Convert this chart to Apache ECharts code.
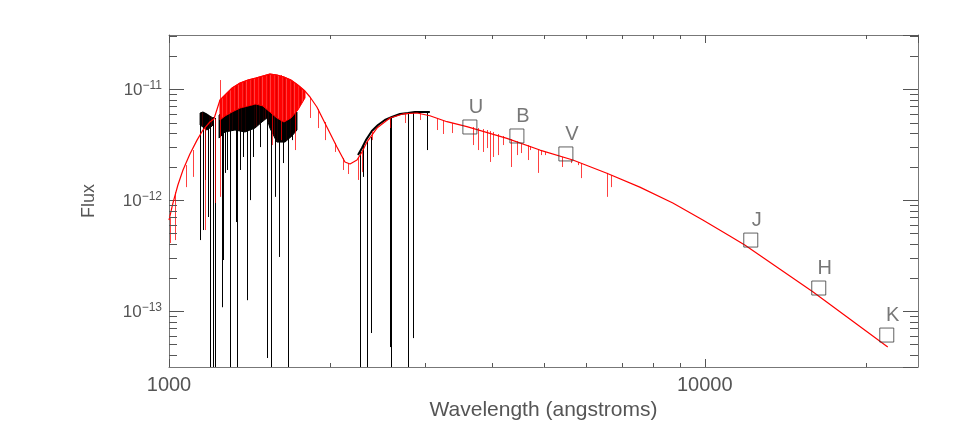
<!DOCTYPE html>
<html><head><meta charset="utf-8">
<script src="https://cdn.jsdelivr.net/npm/echarts@6/dist/echarts.min.js"></script>
<style>html,body{margin:0;padding:0;background:#fff}#c{width:954px;height:436px}</style>
</head><body><div id="c"></div>
<script>
// ---- axes ----
const xMin = 1000, xMax = 25000;
const yMin = 3.12e-14, yMax = 3.09e-11;
const xMinorTicks = [2000,3000,4000,5000,6000,7000,8000,9000,20000];
const yMinorTicks = [4e-14,5e-14,6e-14,7e-14,8e-14,9e-14,2e-13,3e-13,4e-13,5e-13,6e-13,7e-13,8e-13,9e-13,2e-12,3e-12,4e-12,5e-12,6e-12,7e-12,8e-12,9e-12,2e-11,3e-11];

// ---- model spectrum (red) continuum ----
const redWave = [1000,1017,1039,1062,1094,1128,1157,1192,1213,1245,1272,1311,1357,1404,1453,1497,1543,1590,1639,1689,1740,1794,1833,1888,1971,2058,2130,2177,2243,2292,2341,2444,2584,2733,2902,3068,3302,3597,4273,4923,5672,6565,7563,8716,9915,11134,11875,15906,21951];
const redFlux = [6.61e-13,9.41e-13,1.37e-12,1.87e-12,2.61e-12,3.48e-12,4.29e-12,5.07e-12,5.39e-12,8.01e-12,8.88e-12,1.027e-11,1.14e-11,1.212e-11,1.265e-11,1.318e-11,1.374e-11,1.346e-11,1.291e-11,1.212e-11,1.093e-11,9.65e-12,8.52e-12,6.92e-12,4.57e-12,3.01e-12,2.21e-12,2.12e-12,2.30e-12,2.72e-12,3.34e-12,4.47e-12,5.51e-12,5.99e-12,6.11e-12,5.77e-12,5.10e-12,4.60e-12,3.61e-12,2.83e-12,2.30e-12,1.75e-12,1.31e-12,9.41e-13,6.61e-13,4.74e-13,3.93e-13,1.49e-13,4.72e-14];

// model line-blanketed band (envelope)
const redBandWave = [1245,1272,1311,1357,1404,1453,1497,1543,1590,1639,1689,1740,1794];
const redBandHigh = [8.01e-12,8.88e-12,1.027e-11,1.14e-11,1.212e-11,1.265e-11,1.318e-11,1.374e-11,1.346e-11,1.291e-11,1.212e-11,1.093e-11,9.65e-12];
const redBandLow  = [5.28e-12,5.74e-12,6.24e-12,6.78e-12,7.07e-12,7.37e-12,7.07e-12,6.24e-12,5.51e-12,5.07e-12,5.51e-12,6.50e-12,8.35e-12];

// model absorption lines
const modelLineWave = [1004,1026,1076,1109,1167,1220,1245,1557,1618,1719,1833,1897,1954,2040,2112,2158,2253,2292,2391,2584,2756,2939,3162,3245,3373,3691,3772,3854,3921,3972,4023,4111,4200,4347,4461,4538,4676,4716,4881,4943,5029,5411,5623,5796,5871,6565,6678];
const modelLineTop = [6.89e-13,1.18e-12,2.07e-12,2.83e-12,4.47e-12,5.39e-12,1.212e-11,1.374e-11,1.346e-11,1.116e-11,8.52e-12,6.64e-12,5.07e-12,3.28e-12,2.40e-12,2.16e-12,2.45e-12,2.72e-12,4.20e-12,5.51e-12,5.99e-12,6.11e-12,5.51e-12,5.28e-12,4.96e-12,4.57e-12,4.47e-12,4.38e-12,4.29e-12,4.20e-12,4.12e-12,3.95e-12,3.79e-12,3.56e-12,3.41e-12,3.28e-12,3.14e-12,3.08e-12,2.89e-12,2.83e-12,2.72e-12,2.45e-12,2.30e-12,2.21e-12,2.16e-12,1.76e-12,1.68e-12];
const modelLineBottom = [4.10e-13,4.36e-13,1.31e-12,1.62e-12,5.37e-13,9.41e-13,1.07e-12,3.14e-12,3.48e-12,2.83e-12,5.51e-12,4.47e-12,3.48e-12,2.72e-12,1.87e-12,1.72e-12,1.52e-12,1.79e-12,3.48e-12,4.47e-12,4.96e-12,5.28e-12,4.29e-12,3.95e-12,4.03e-12,3.14e-12,2.83e-12,2.72e-12,2.95e-12,2.21e-12,2.45e-12,2.55e-12,3.14e-12,1.99e-12,2.55e-12,2.66e-12,2.30e-12,2.83e-12,1.76e-12,2.55e-12,2.55e-12,1.99e-12,2.16e-12,2.07e-12,1.58e-12,1.07e-12,1.31e-12];

// ---- observed spectrum (black) ----
const swpWaveA = [1143,1157,1177,1192,1208];
const swpHighA = [6.11e-12,6.24e-12,5.99e-12,5.74e-12,5.51e-12];
const swpLowA  = [4.76e-12,4.57e-12,4.29e-12,4.47e-12,4.76e-12];
const swpWaveB = [1240,1272,1328,1386,1447,1491,1523,1543,1590,1646,1696,1733];
const swpHighB = [5.86e-12,6.50e-12,7.07e-12,7.37e-12,8.01e-12,8.70e-12,1.027e-11,8.35e-12,7.68e-12,7.22e-12,6.78e-12,6.24e-12];
const swpLowB  = [3.63e-12,4.12e-12,4.29e-12,4.12e-12,4.47e-12,5.07e-12,5.51e-12,4.47e-12,3.34e-12,3.34e-12,3.79e-12,4.29e-12];
const lwpWave = [2253,2292,2331,2391,2455,2529,2606,2698,2792,2877,2965,3068];
const lwpFlux = [2.55e-12,2.95e-12,3.48e-12,4.20e-12,4.76e-12,5.28e-12,5.62e-12,5.99e-12,6.11e-12,6.24e-12,6.24e-12,6.24e-12];

const obsLineWave = [1143,1156,1167,1184,1192,1206,1218,1254,1263,1272,1281,1300,1334,1341,1357,1376,1400,1416,1437,1478,1526,1548,1577,1606,1634,1670,1694,2272,2304,2344,2378,2584,2599,2796,2857,3025];
const obsLineTop = [6.11e-12,6.24e-12,6.11e-12,5.86e-12,5.74e-12,5.62e-12,5.51e-12,5.86e-12,6.11e-12,6.50e-12,6.50e-12,6.78e-12,7.07e-12,7.07e-12,7.22e-12,7.37e-12,7.52e-12,7.68e-12,8.01e-12,8.52e-12,9.86e-12,8.35e-12,8.01e-12,7.52e-12,7.22e-12,6.92e-12,6.78e-12,2.72e-12,3.08e-12,3.41e-12,3.71e-12,5.51e-12,5.51e-12,6.11e-12,6.24e-12,6.24e-12];
const obsLineBottom = [4.36e-13,5.37e-13,1.52e-12,7.04e-13,1e-14,1e-14,1e-14,1.08e-13,2.88e-13,1.76e-12,1.87e-12,1e-14,6.34e-13,1e-14,1.87e-12,2.45e-12,1.25e-13,1.0e-12,2.45e-12,3.01e-12,3.76e-14,1e-14,1.07e-12,3.07e-13,2.16e-12,1e-14,3.48e-12,1e-14,1.62e-12,1e-14,6.32e-14,4.72e-14,1e-14,1e-14,5.69e-14,2.83e-12];

// ---- photometry ----
const bandNames = ['U','B','V','J','H','K'];
const photWave = [3644,4460,5505,12185,16320,21860];
const photFlux = [4.57e-12,3.79e-12,2.61e-12,4.36e-13,1.61e-13,6.06e-14];

// ---- styles ----
const FONT = '"Liberation Sans", Arial, sans-serif';
const TXT = '#555';
const AX = '#777';

const zip = (a, b) => a.map((v, i) => [v, b[i]]);
const lineItems = (w, t, b) => w.map((v, i) => [v, t[i], b[i]]);

// vertical-stripe texture to mimic the dense line forest
function stripes(cols) {
  const c = document.createElement('canvas'); c.width = cols.length; c.height = 4;
  const g = c.getContext('2d');
  cols.forEach((col, i) => { g.fillStyle = col; g.fillRect(i, 0, 1, 4); });
  return { image: c, repeat: 'repeat' };
}
const redTex = stripes(['#ff0000','#ff0000','#ff2a2a','#ff0000','#e00000','#ff0000','#ff4040','#ff0000']);
const blackTex = stripes(['#000000','#000000','#1a0000','#000000','#400000','#000000','#000000','#200000','#000000']);

function bandSeries(name, wave, hi, lo, fill, edge, z) {
  return {
    type: 'custom', name, z, silent: true,
    data: [[wave[0], hi[0]]],
    renderItem: (params, api) => {
      const pts = [];
      for (let i = 0; i < wave.length; i++) pts.push(api.coord([wave[i], hi[i]]));
      for (let i = wave.length - 1; i >= 0; i--) pts.push(api.coord([wave[i], lo[i]]));
      return { type: 'polygon', shape: { points: pts }, style: { fill: fill, stroke: edge, lineWidth: 1 } };
    }
  };
}
function dipSeries(name, items, color, width, z) {
  return {
    type: 'custom', name, z, silent: true, data: items,
    renderItem: (params, api) => {
      const cs = params.coordSys;
      const p1 = api.coord([api.value(0), api.value(1)]);
      const p2 = api.coord([api.value(0), api.value(2)]);
      const yb = Math.min(p2[1], cs.y + cs.height);
      const yt = Math.max(p1[1], cs.y);
      const x = Math.round(p1[0]) + 0.5;
      return { type: 'line', shape: { x1: x, y1: yt, x2: x, y2: yb }, style: { stroke: color, lineWidth: width } };
    }
  };
}

const chart = echarts.init(document.getElementById('c'), null, { renderer: 'canvas' });
const commonX = { type: 'log', logBase: 10, min: xMin, max: xMax, splitLine: { show: false },
  axisLine: { lineStyle: { color: AX, width: 1 } },
  axisTick: { inside: true, length: 8, lineStyle: { color: '#555' } } };
const commonY = { type: 'log', logBase: 10, min: yMin, max: yMax, splitLine: { show: false },
  axisLine: { lineStyle: { color: AX, width: 1 } },
  axisTick: { inside: true, length: 15, lineStyle: { color: '#555' } } };

chart.setOption({
  animation: false,
  backgroundColor: '#fff',
  grid: { left: 169, right: 36, top: 35, bottom: 69, containLabel: false },
  xAxis: [
    Object.assign({}, commonX, { position: 'bottom',
      name: 'Wavelength (angstroms)', nameLocation: 'middle', nameGap: 33,
      nameTextStyle: { fontFamily: FONT, fontSize: 21, color: TXT },
      axisLabel: { margin: 8, fontFamily: FONT, fontSize: 20, color: TXT, showMaxLabel: false, showMinLabel: true,
        formatter: v => String(Math.round(v)) } }),
    Object.assign({}, commonX, { position: 'top', axisLabel: { show: false } })
  ],
  yAxis: [
    Object.assign({}, commonY, { position: 'left',
      name: 'Flux', nameLocation: 'middle', nameGap: 71, nameRotate: 90,
      nameTextStyle: { fontFamily: FONT, fontSize: 18, color: TXT },
      axisLabel: { margin: 7, showMinLabel: false, showMaxLabel: false,
        formatter: v => { const e = Math.round(Math.log10(v)); return '{b|10}{s|' + (e < 0 ? '\u2212' : '') + Math.abs(e) + '}'; },
        rich: {
          b: { fontFamily: FONT, fontSize: 17, color: TXT, lineHeight: 19, verticalAlign: 'bottom' },
          s: { fontFamily: FONT, fontSize: 12, color: TXT, lineHeight: 12, verticalAlign: 'top' }
        } } }),
    Object.assign({}, commonY, { position: 'right', axisLabel: { show: false } })
  ],
  series: [
    bandSeries('obsA', swpWaveA, swpHighA, swpLowA, blackTex, '#000', 1),
    bandSeries('obsB', swpWaveB, swpHighB, swpLowB, blackTex, '#000', 1),
    { type: 'line', name: 'obsLW', z: 2, data: zip(lwpWave, lwpFlux), showSymbol: false, symbol: 'none',
      lineStyle: { color: '#000', width: 2 } },
    dipSeries('obsLines', lineItems(obsLineWave, obsLineTop, obsLineBottom), '#000', 1, 3),
    bandSeries('modelBand', redBandWave, redBandHigh, redBandLow, redTex, '#ff0000', 4),
    { type: 'line', name: 'model', z: 5, data: zip(redWave, redFlux), showSymbol: false, symbol: 'none',
      lineStyle: { color: '#ff0000', width: 1.2 } },
    dipSeries('modelLines', lineItems(modelLineWave, modelLineTop, modelLineBottom), 'rgba(255,0,0,0.75)', 1, 6),
    { type: 'scatter', name: 'phot', z: 7, data: zip(photWave, photFlux), symbol: 'rect', symbolSize: 14,
      itemStyle: { color: 'rgba(0,0,0,0)', borderColor: '#3a3a3a', borderWidth: 1 },
      label: { show: true, position: 'top', distance: 2, offset: [6, 0], fontFamily: FONT, fontSize: 20, color: TXT,
        formatter: p => bandNames[p.dataIndex] } },
    { type: 'custom', name: 'xMinor', z: 8, silent: true, data: xMinorTicks.map(v => [v, yMin]),
      renderItem: (params, api) => {
        const cs = params.coordSys; const x = Math.round(api.coord([api.value(0), yMin])[0]) + 0.5;
        const st = { stroke: '#555', lineWidth: 1 };
        return { type: 'group', children: [
          { type: 'line', shape: { x1: x, y1: cs.y + cs.height, x2: x, y2: cs.y + cs.height - 4 }, style: st },
          { type: 'line', shape: { x1: x, y1: cs.y, x2: x, y2: cs.y + 4 }, style: st } ] };
      } },
    { type: 'custom', name: 'yMinor', z: 8, silent: true, data: yMinorTicks.map(v => [xMin, v]),
      renderItem: (params, api) => {
        const cs = params.coordSys; const y = Math.round(api.coord([xMin, api.value(1)])[1]) + 0.5;
        const st = { stroke: '#555', lineWidth: 1 };
        return { type: 'group', children: [
          { type: 'line', shape: { x1: cs.x, y1: y, x2: cs.x + 8, y2: y }, style: st },
          { type: 'line', shape: { x1: cs.x + cs.width, y1: y, x2: cs.x + cs.width - 8, y2: y }, style: st } ] };
      } }
  ]
});
</script>
</body></html>
